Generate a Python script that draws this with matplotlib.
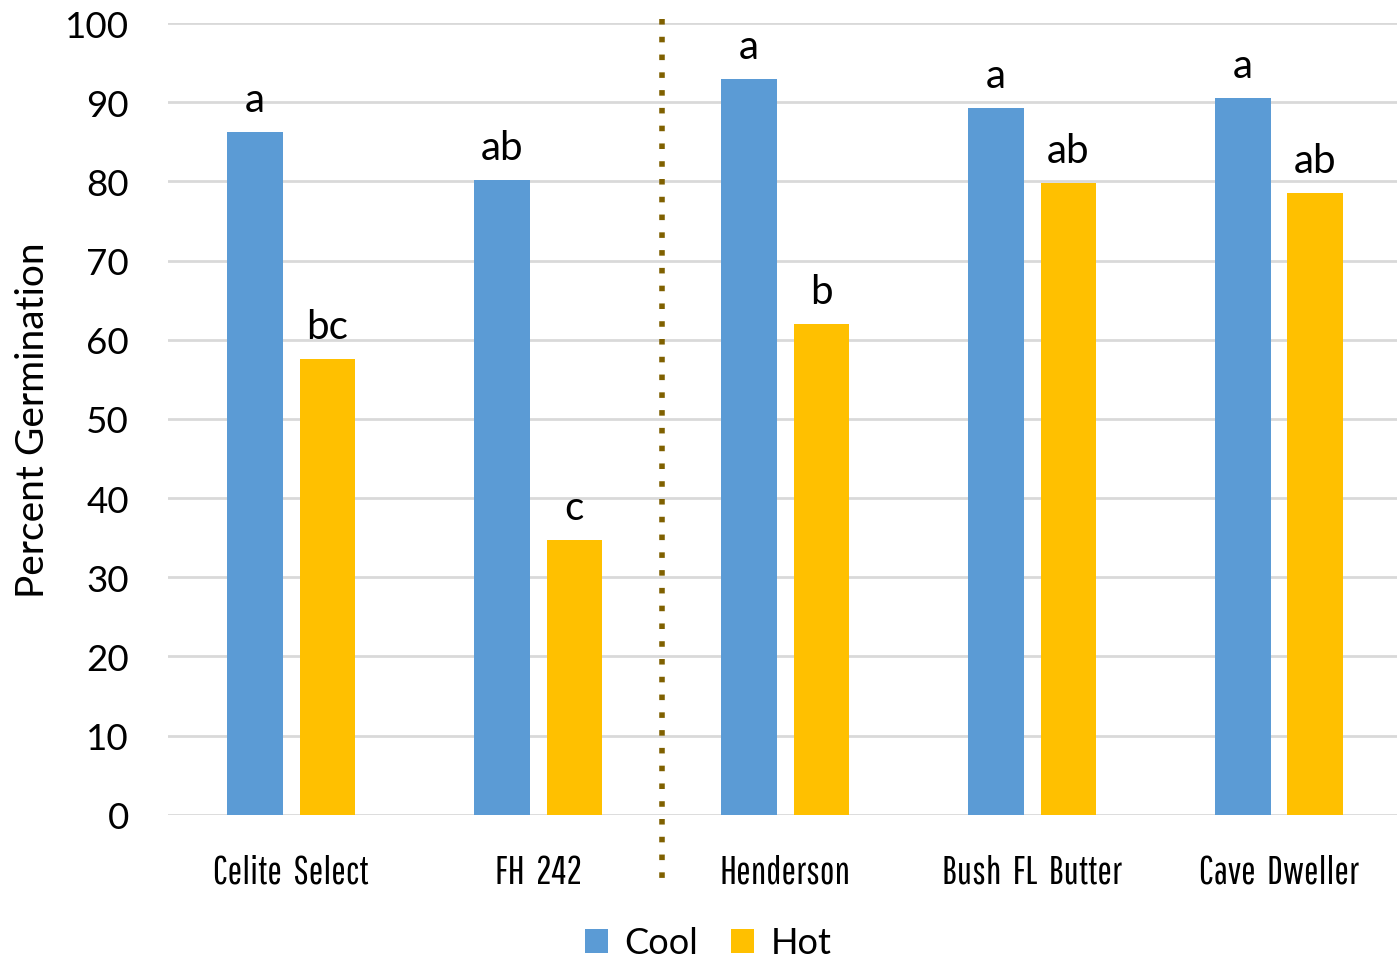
import numpy as np
import matplotlib.pyplot as plt
import matplotlib.transforms as mtransforms

# data
varieties = ['Celite  Select', 'FH  242', 'Henderson', 'Bush  FL  Butter', 'Cave  Dweller']
cool = [86.2, 80.2, 92.9, 89.3, 90.5]
hot = [57.6, 34.7, 62.0, 79.8, 78.5]
cool_letters = ['a', 'ab', 'a', 'a', 'a']
hot_letters = ['bc', 'c', 'b', 'ab', 'ab']

blue = '#5B9BD5'
gold = '#FFC000'
main_font = ['Lato', 'DejaVu Sans']
narrow_font = ['Pathway Gothic One', 'Roboto Condensed', 'DejaVu Sans']

fig = plt.figure(figsize=(13.97, 9.62), dpi=100)
ax = fig.add_axes([0.120, 0.152, 0.884, 0.823])

x = np.arange(len(varieties))
w = 0.224
off = 0.146
ax.bar(x - off, cool, w, color=blue, label='Cool', zorder=3)
ax.bar(x + off, hot, w, color=gold, label='Hot', zorder=3)

# significance letters
for i in range(len(x)):
    ax.annotate(cool_letters[i], (x[i] - off, cool[i]), xytext=(0, 10),
                textcoords='offset points', ha='center', va='bottom',
                fontsize=29, family=main_font)
    ax.annotate(hot_letters[i], (x[i] + off, hot[i]), xytext=(0, 10),
                textcoords='offset points', ha='center', va='bottom',
                fontsize=29, family=main_font)

ax.set_xlim(-0.5, 4.5)
ax.set_ylim(0, 100)
ax.set_yticks(range(0, 101, 10))
ax.grid(axis='y', color='#D9D9D9', linewidth=2, zorder=0)
for s in ax.spines.values():
    s.set_visible(False)
ax.tick_params(length=0)
ax.tick_params(axis='y', labelsize=26.5, pad=28)
ax.set_xticks(x)
ax.set_xticklabels(varieties, fontsize=28, family=narrow_font)
ax.tick_params(axis='x', pad=28)
for lab in ax.get_yticklabels():
    lab.set_family(main_font)
ax.set_ylabel('Percent Germination', fontsize=28, family=main_font, labelpad=10)

# divider between groups
trans = mtransforms.blended_transform_factory(ax.transData, ax.transAxes)
ax.plot([1.5, 1.5], [1.005, -0.08], transform=trans, color='#7F6000',
        linestyle=(0, (1, 2.2)), linewidth=4, clip_on=False, zorder=4)

fig.legend(loc='lower center', bbox_to_anchor=(0.507, -0.032), ncol=2,
           frameon=False, handlelength=0.65, handleheight=0.65,
           handletextpad=0.45, columnspacing=0.9,
           prop={'family': main_font, 'size': 26})

fig.savefig('out.png', dpi=100)
